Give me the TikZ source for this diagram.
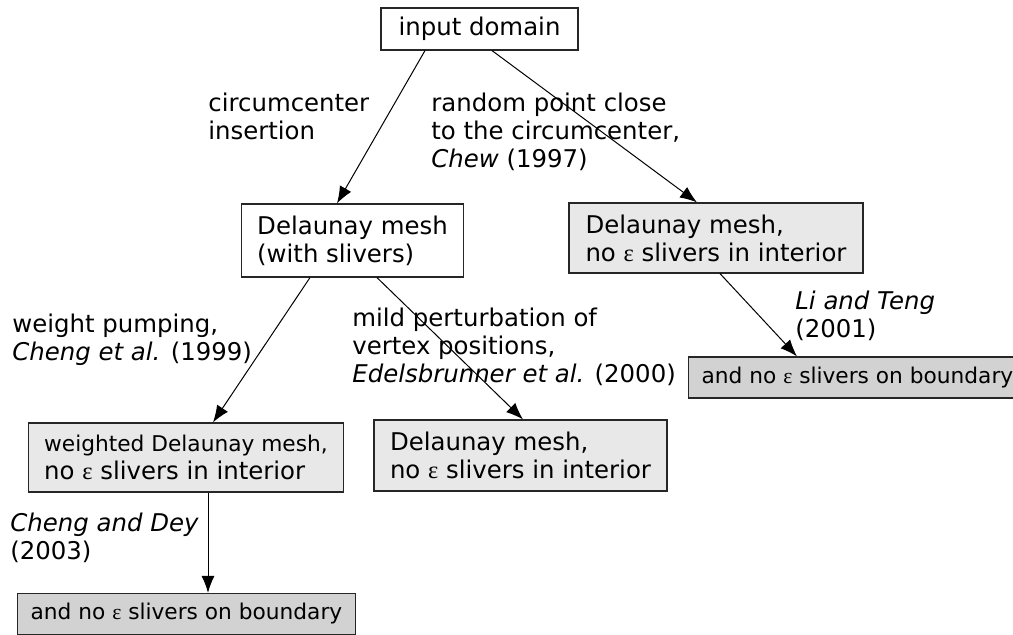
\documentclass[tikz,border=0pt]{standalone}
\usepackage{fontspec}
\setmainfont{DejaVu Sans}
\newfontfamily\epsfont{Liberation Serif}
\usetikzlibrary{arrows.meta}
\newcommand{\eps}{{\epsfont ε}}
\newcommand{\smalltext}{\fontsize{10.85}{14}\selectfont}

\begin{document}
\begin{tikzpicture}[x=0.5pt,y=-0.5pt,
font=\fontsize{12.2}{14}\selectfont,
box/.style={draw=black!85, line width=0.6pt, inner xsep=8pt, inner ysep=0pt, align=left},
plainbox/.style={box, fill=white},
meshbox/.style={box, fill=gray!18},
boundbox/.style={box, fill=gray!35, inner xsep=6.5pt, minimum height=20.5pt, anchor=west},
note/.style={anchor=north west, inner sep=0pt, align=left},
edge/.style={-{Latex[length=8.5pt,width=6.5pt]}, line width=0.5pt},
]
\useasboundingbox (0,0) rectangle (1013,635);

%Boxes
\node[plainbox, minimum width=98.5pt, minimum height=21pt]   (input)   at (479.5,29)  {input domain};
\node[plainbox, minimum width=110.5pt, minimum height=36.5pt] (slivers) at (352.5,240.5) {Delaunay mesh\\(with slivers)};
\node[meshbox, minimum width=147pt, minimum height=35pt]     (rmesh)   at (716,238)   {Delaunay mesh,\\no \eps\ slivers in interior};
\node[boundbox]                                              (rbound)  at (688,377.5) {\smalltext and no \eps\ slivers on boundary};
\node[meshbox, minimum width=155pt, minimum height=34.5pt]   (wmesh)   at (186,457.5) {\smalltext weighted Delaunay mesh,\\no \eps\ slivers in interior};
\node[meshbox, minimum width=146.5pt, minimum height=35.5pt] (pmesh)   at (520.5,455.5) {Delaunay mesh,\\no \eps\ slivers in interior};
\node[boundbox]                                              (lbound)  at (17,614)    {\smalltext and no \eps\ slivers on boundary};

%Labels
\node[note] (circlabel) at (208,93)  {circumcenter\\insertion};
\node[note] (chewlabel) at (431,93)  {random point close\\to the circumcenter,\\\textit{Chew} (1997)};
\node[note] (pumplabel) at (12,314)  {weight pumping,\\\textit{Cheng et al.} (1999)};
\node[note] (perturblabel) at (352,308) {mild perturbation of\\vertex positions,\\\textit{Edelsbrunner et al.} (2000)};
\node[note] (tenglabel) at (795,291) {\textit{Li and Teng}\\(2001)};
\node[note] (deylabel)  at (10,513)  {\textit{Cheng and Dey}\\(2003)};

%Arrows
\draw[edge] ([xshift=-27.25pt]input.south) -- ([xshift=-7.75pt]slivers.north);
\draw[edge] ([xshift=6.25pt]input.south) -- ([xshift=-9.5pt]rmesh.north);
\draw[edge] ([xshift=-21.25pt]slivers.south) -- ([xshift=13.5pt]wmesh.north);
\draw[edge] ([xshift=12.25pt]slivers.south) -- ([xshift=1.25pt]pmesh.north);
\draw[edge] ([xshift=2pt]rmesh.south) -- ([xshift=54.5pt]rbound.north west);
\draw[edge] ([xshift=11pt]wmesh.south) -- ([xshift=95.5pt]lbound.north west);
\end{tikzpicture}
\end{document}
